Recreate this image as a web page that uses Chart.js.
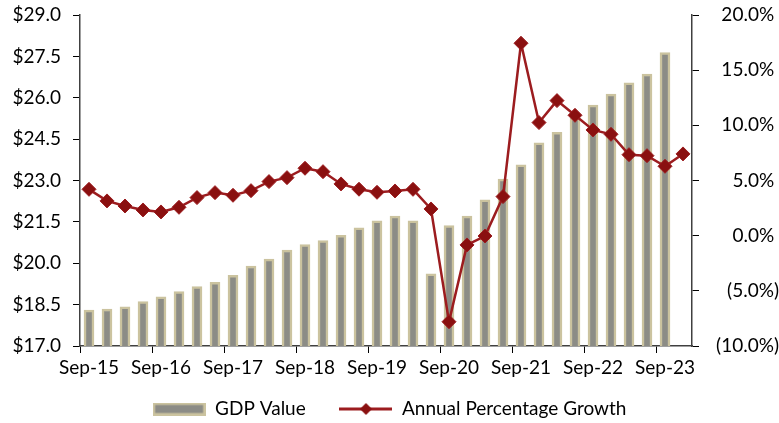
<!DOCTYPE html>
<html>
<head>
<meta charset="utf-8">
<script src="https://cdn.jsdelivr.net/npm/chart.js@4.4.0/dist/chart.umd.min.js"></script>
<style>
  html, body { margin: 0; padding: 0; background: #fff; }
  #wrap { width: 779px; height: 423px; position: relative; }
</style>
</head>
<body>
<div id="wrap"><canvas id="gdpChart"></canvas></div>
<script>
// Quarterly categories, Sep-15 .. Dec-23
var quarters = [
    'Sep-15', 'Dec-15', 'Mar-16', 'Jun-16', 'Sep-16', 'Dec-16', 'Mar-17', 'Jun-17',
    'Sep-17', 'Dec-17', 'Mar-18', 'Jun-18', 'Sep-18', 'Dec-18', 'Mar-19', 'Jun-19',
    'Sep-19', 'Dec-19', 'Mar-20', 'Jun-20', 'Sep-20', 'Dec-20', 'Mar-21', 'Jun-21',
    'Sep-21', 'Dec-21', 'Mar-22', 'Jun-22', 'Sep-22', 'Dec-22', 'Mar-23', 'Jun-23',
    'Sep-23', 'Dec-23'
];

// GDP value, $ trillions (left axis)
var gdpValues = [
    18.30, 18.34, 18.42, 18.61, 18.78, 18.97, 19.15, 19.31,
    19.56, 19.90, 20.15, 20.48, 20.68, 20.82, 21.01, 21.28,
    21.54, 21.71, 21.54, 19.62, 21.37, 21.71, 22.30, 23.05,
    23.57, 24.37, 24.75, 25.25, 25.73, 26.13, 26.54, 26.86,
    27.64, null
];

// Annual percentage growth (right axis)
var growthValues = [
    4.20, 3.15, 2.69, 2.33, 2.15, 2.57, 3.45, 3.90,
    3.66, 4.08, 4.90, 5.26, 6.11, 5.80, 4.69, 4.21,
    3.93, 4.05, 4.20, 2.42, -7.80, -0.84, -0.03, 3.54,
    17.44, 10.25, 12.24, 10.91, 9.58, 9.19, 7.34, 7.25,
    6.29, 7.41
];

var barFill = '#8C8C86';
var barEdge = '#CBC39F';
var lineColor = '#9C1C1F';
var markerFill = '#8A1010';

Chart.defaults.font.family = 'Lato, "Open Sans", sans-serif';
Chart.defaults.font.size = 19;
Chart.defaults.color = '#000';

// legend swatches
function makeSwatch() {
    var c = document.createElement('canvas');
    c.width = 53; c.height = 13;
    var g = c.getContext('2d');
    g.fillStyle = barEdge;
    g.fillRect(0, 0, 53, 13);
    g.fillStyle = barFill;
    g.fillRect(2.5, 2.5, 48, 8);
    return c;
}
function makeLineMarker() {
    var c = document.createElement('canvas');
    c.width = 53; c.height = 16;
    var g = c.getContext('2d');
    g.strokeStyle = lineColor;
    g.lineWidth = 3;
    g.beginPath(); g.moveTo(0, 8); g.lineTo(53, 8); g.stroke();
    g.fillStyle = markerFill;
    g.beginPath();
    g.moveTo(26.5, 2); g.lineTo(32.5, 8); g.lineTo(26.5, 14); g.lineTo(20.5, 8);
    g.closePath(); g.fill();
    return c;
}
var legendIcons = [makeSwatch(), makeLineMarker()];

// fixed axis widths, no extra label padding above/below the plot
function fixWidth(w) {
    return function (s) {
        s.width = w;
        s.paddingTop = 0;
        s.paddingBottom = 0;
    };
}

var ctx = document.getElementById('gdpChart').getContext('2d');
var gdpChart = new Chart(ctx, {
    data: {
        labels: quarters,
        datasets: [{
            type: 'bar',
            label: 'GDP Value',
            data: gdpValues,
            yAxisID: 'y',
            backgroundColor: barFill,
            borderColor: barEdge,
            borderWidth: 2.5,
            borderSkipped: false,
            barThickness: 10,
            order: 2
        }, {
            type: 'line',
            label: 'Annual Percentage Growth',
            data: growthValues,
            yAxisID: 'y1',
            borderColor: lineColor,
            backgroundColor: markerFill,
            borderWidth: 2.5,
            tension: 0,
            pointStyle: 'rectRot',
            pointRadius: 7,
            pointBackgroundColor: markerFill,
            pointBorderColor: lineColor,
            pointBorderWidth: 1,
            order: 1
        }]
    },
    options: {
        responsive: true,
        maintainAspectRatio: false,
        animation: false,
        layout: {
            padding: { top: 15, left: 0, right: 0, bottom: 0 }
        },
        plugins: {
            tooltip: { enabled: false },
            legend: {
                position: 'bottom',
                maxHeight: 43,
                labels: {
                    usePointStyle: true,
                    pointStyleWidth: 53,
                    boxHeight: 13,
                    padding: 19.5,
                    color: '#000',
                    font: { size: 19 },
                    generateLabels: function (chart) {
                        var items = Chart.defaults.plugins.legend.labels.generateLabels(chart);
                        items.sort(function (a, b) { return a.datasetIndex - b.datasetIndex; });
                        items.forEach(function (it) {
                            it.pointStyle = legendIcons[it.datasetIndex];
                            // widen the gap after the first entry
                            if (it.datasetIndex === 0) it.text = it.text + '\u2003';
                        });
                        return items;
                    }
                }
            }
        },
        scales: {
            x: {
                offset: true,
                grid: {
                    offset: true,
                    drawOnChartArea: false,
                    tickLength: 7,
                    tickColor: function (c) { return c.index % 4 === 0 ? '#000' : 'rgba(0,0,0,0)'; }
                },
                border: { color: '#404040', width: 1.5 },
                ticks: {
                    autoSkip: false,
                    maxRotation: 0,
                    padding: 3,
                    callback: function (v, i) { return i % 4 === 0 ? quarters[i] : ''; }
                },
                afterFit: function (s) { s.height = 34; }
            },
            y: {
                position: 'left',
                min: 17,
                max: 29,
                ticks: {
                    stepSize: 1.5,
                    padding: 12,
                    callback: function (v) { return '$' + v.toFixed(1); }
                },
                grid: { drawOnChartArea: false, tickLength: 7, tickColor: '#000' },
                border: { color: '#404040', width: 1.5 },
                afterFit: fixWidth(80)
            },
            y1: {
                position: 'right',
                min: -10,
                max: 20,
                ticks: {
                    stepSize: 5,
                    padding: 1,
                    crossAlign: 'far',
                    callback: function (v) {
                        return v < 0 ? '(' + Math.abs(v).toFixed(1) + '%)' : v.toFixed(1) + '% ';
                    }
                },
                grid: { drawOnChartArea: false, tickLength: 7, tickColor: '#000' },
                border: { color: '#404040', width: 1.5 },
                afterFit: fixWidth(87)
            }
        }
    }
});
</script>
</body>
</html>
